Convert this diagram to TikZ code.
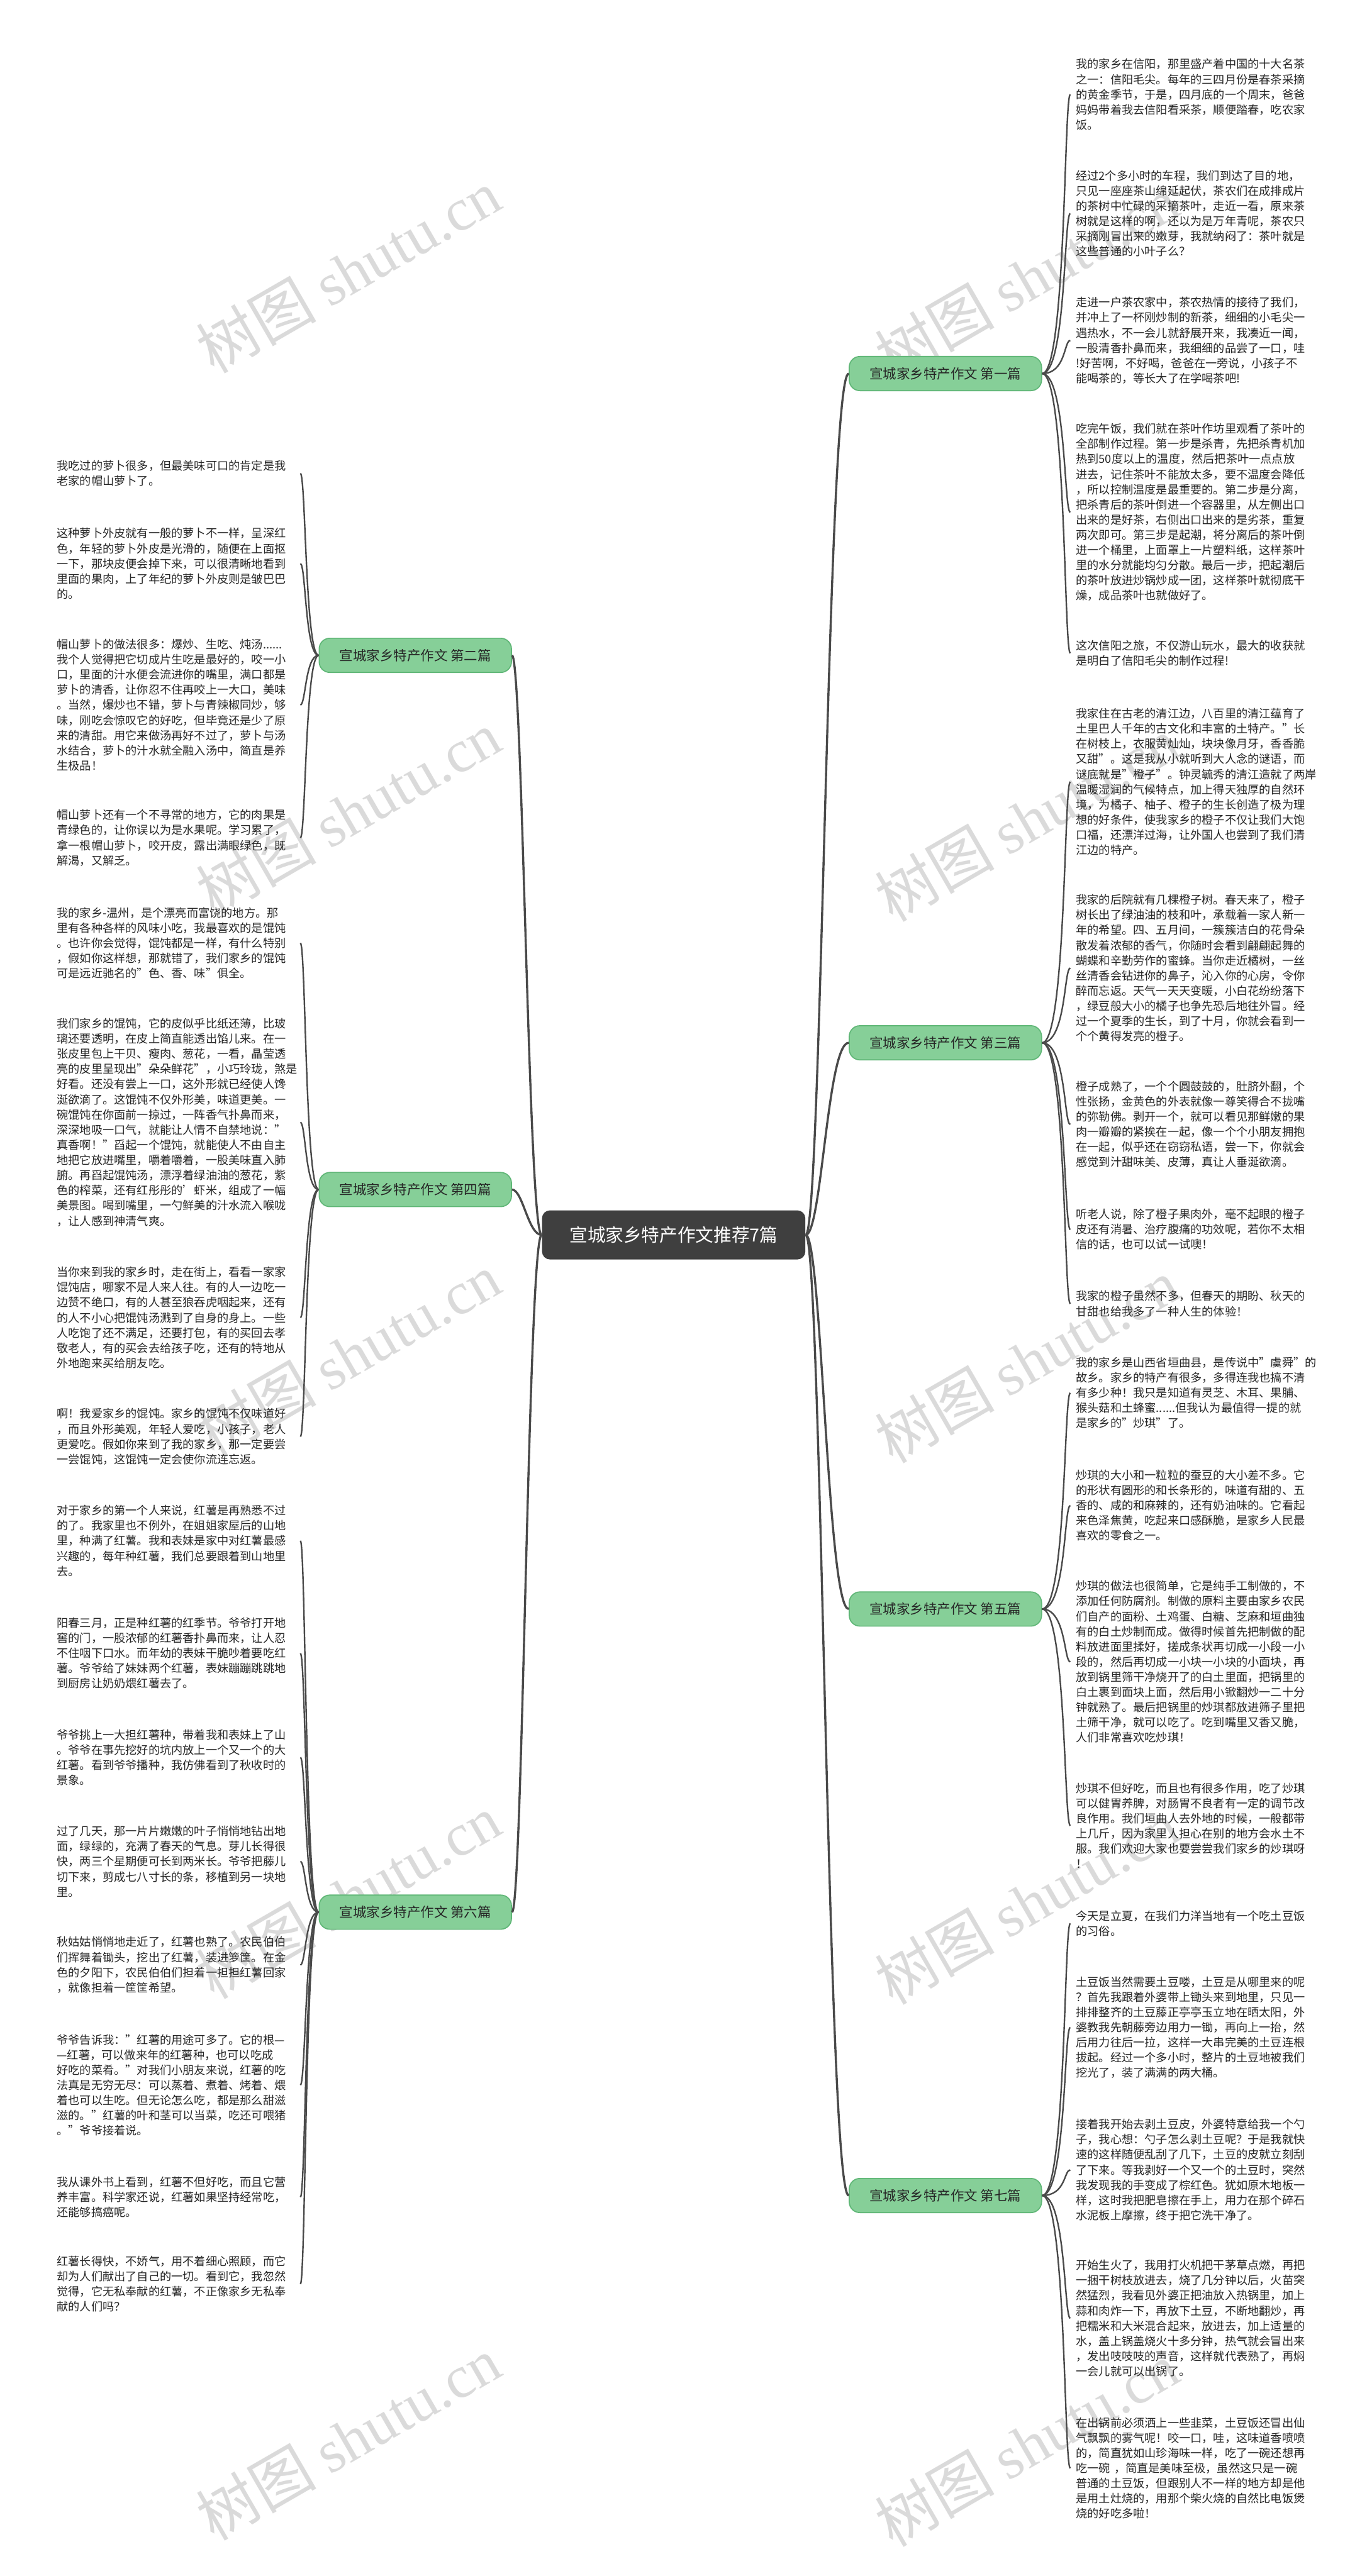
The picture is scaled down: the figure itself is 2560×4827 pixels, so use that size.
\documentclass[tikz,border=0pt]{standalone}
\usepackage{fontspec}
\setmainfont{Noto Sans CJK SC}
\newfontfamily\markfont{Liberation Serif}
\usetikzlibrary{calc}

\definecolor{rootfill}{HTML}{3F3F3F}
\definecolor{topicfill}{HTML}{86CF98}
\definecolor{topicline}{HTML}{5FB676}
\definecolor{wirecol}{HTML}{4A4A4A}
\definecolor{markcol}{HTML}{BDBDBD}

\tikzset{
  rootbox/.style={fill=rootfill, text=white, rounded corners=0.15cm, minimum width=4.93cm, minimum height=0.92cm, font=\fontsize{9.6pt}{11pt}\selectfont},
  topicbox/.style={fill=topicfill, draw=topicline, line width=0.02cm, rounded corners=0.2cm, minimum width=3.6cm, minimum height=0.64cm, text=black!85, font=\fontsize{7.2pt}{9pt}\selectfont},
  parabox/.style={anchor=west, align=left, text width=4.45cm, inner xsep=0.1cm, inner ysep=0pt, text=black!85, font=\fontsize{6.1pt}{8.08pt}\selectfont},
  trunk/.style={draw=wirecol, line width=0.04cm},
  twig/.style={draw=wirecol, line width=0.028cm},
  wmark/.style={text=markcol, opacity=0.55, rotate=30, font=\fontsize{32pt}{32pt}\selectfont},
}

\begin{document}
\begin{tikzpicture}[x=0.01cm, y=-0.01cm]
	\useasboundingbox[fill=white] (0,0) rectangle (2560,4827);

	% watermarks
	\node[wmark] (wm1) at (652,508) {树图 {\markfont shutu.cn}};
	\node[wmark] (wm2) at (1923,520) {树图 {\markfont shutu.cn}};
	\node[wmark] (wm3) at (652,1523) {树图 {\markfont shutu.cn}};
	\node[wmark] (wm4) at (1923,1535) {树图 {\markfont shutu.cn}};
	\node[wmark] (wm5) at (652,2539) {树图 {\markfont shutu.cn}};
	\node[wmark] (wm6) at (1923,2550) {树图 {\markfont shutu.cn}};
	\node[wmark] (wm7) at (652,3554) {树图 {\markfont shutu.cn}};
	\node[wmark] (wm8) at (1923,3565) {树图 {\markfont shutu.cn}};
	\node[wmark] (wm9) at (652,4569) {树图 {\markfont shutu.cn}};
	\node[wmark] (wm10) at (1923,4580) {树图 {\markfont shutu.cn}};

	\node[rootbox] (c) at (1262,2314) {宣城家乡特产作文推荐7篇};

	\node[topicbox] (b1) at (1771,700) {宣城家乡特产作文 第一篇};
	\node[topicbox] (b2) at (778,1228) {宣城家乡特产作文 第二篇};
	\node[topicbox] (b3) at (1771,1954) {宣城家乡特产作文 第三篇};
	\node[topicbox] (b4) at (778,2229) {宣城家乡特产作文 第四篇};
	\node[topicbox] (b5) at (1771,3015) {宣城家乡特产作文 第五篇};
	\node[topicbox] (b6) at (778,3583) {宣城家乡特产作文 第六篇};
	\node[topicbox] (b7) at (1771,4114) {宣城家乡特产作文 第七篇};

	% 第一篇
	\node[parabox] (r1a) at (2005,177) {我的家乡在信阳，那里盛产着中国的十大名茶\\之一：信阳毛尖。每年的三四月份是春茶采摘\\的黄金季节，于是，四月底的一个周末，爸爸\\妈妈带着我去信阳看采茶，顺便踏春，吃农家\\饭。};
	\node[parabox] (r1b) at (2005,400) {经过2个多小时的车程，我们到达了目的地，\\只见一座座茶山绵延起伏，茶农们在成排成片\\的茶树中忙碌的采摘茶叶，走近一看，原来茶\\树就是这样的啊，还以为是万年青呢，茶农只\\采摘刚冒出来的嫩芽，我就纳闷了：茶叶就是\\这些普通的小叶子么？};
	\node[parabox] (r1c) at (2005,638) {走进一户茶农家中，茶农热情的接待了我们，\\并冲上了一杯刚炒制的新茶，细细的小毛尖一\\遇热水，不一会儿就舒展开来，我凑近一闻，\\一股清香扑鼻而来，我细细的品尝了一口，哇\\!好苦啊，不好喝，爸爸在一旁说，小孩子不\\能喝茶的，等长大了在学喝茶吧!};
	\node[parabox] (r1d) at (2005,960) {吃完午饭，我们就在茶叶作坊里观看了茶叶的\\全部制作过程。第一步是杀青，先把杀青机加\\热到50度以上的温度，然后把茶叶一点点放\\进去，记住茶叶不能放太多，要不温度会降低\\，所以控制温度是最重要的。第二步是分离，\\把杀青后的茶叶倒进一个容器里，从左侧出口\\出来的是好茶，右侧出口出来的是劣茶，重复\\两次即可。第三步是起潮，将分离后的茶叶倒\\进一个桶里，上面罩上一片塑料纸，这样茶叶\\里的水分就能均匀分散。最后一步，把起潮后\\的茶叶放进炒锅炒成一团，这样茶叶就彻底干\\燥，成品茶叶也就做好了。};
	\node[parabox] (r1e) at (2005,1224) {这次信阳之旅，不仅游山玩水，最大的收获就\\是明白了信阳毛尖的制作过程!};

	% 第三篇
	\node[parabox] (r3a) at (2005,1465) {我家住在古老的清江边，八百里的清江蕴育了\\土里巴人千年的古文化和丰富的土特产。"长\\在树枝上，衣服黄灿灿，块块像月牙，香香脆\\又甜"。这是我从小就听到大人念的谜语，而\\谜底就是"橙子"。钟灵毓秀的清江造就了两岸\\温暖湿润的气候特点，加上得天独厚的自然环\\境，为橘子、柚子、橙子的生长创造了极为理\\想的好条件，使我家乡的橙子不仅让我们大饱\\口福，还漂洋过海，让外国人也尝到了我们清\\江边的特产。};
	\node[parabox] (r3b) at (2005,1814) {我家的后院就有几棵橙子树。春天来了，橙子\\树长出了绿油油的枝和叶，承载着一家人新一\\年的希望。四、五月间，一簇簇洁白的花骨朵\\散发着浓郁的香气，你随时会看到翩翩起舞的\\蝴蝶和辛勤劳作的蜜蜂。当你走近橘树，一丝\\丝清香会钻进你的鼻子，沁入你的心房，令你\\醉而忘返。天气一天天变暖，小白花纷纷落下\\，绿豆般大小的橘子也争先恐后地往外冒。经\\过一个夏季的生长，到了十月，你就会看到一\\个个黄得发亮的橙子。};
	\node[parabox] (r3c) at (2005,2107) {橙子成熟了，一个个圆鼓鼓的，肚脐外翻，个\\性张扬，金黄色的外表就像一尊笑得合不拢嘴\\的弥勒佛。剥开一个，就可以看见那鲜嫩的果\\肉一瓣瓣的紧挨在一起，像一个个小朋友拥抱\\在一起，似乎还在窃窃私语，尝一下，你就会\\感觉到汁甜味美、皮薄，真让人垂涎欲滴。};
	\node[parabox] (r3d) at (2005,2304) {听老人说，除了橙子果肉外，毫不起眼的橙子\\皮还有消暑、治疗腹痛的功效呢，若你不太相\\信的话，也可以试一试噢！};
	\node[parabox] (r3e) at (2005,2443) {我家的橙子虽然不多，但春天的期盼、秋天的\\甘甜也给我多了一种人生的体验！};

	% 第五篇
	\node[parabox] (r5a) at (2005,2610) {我的家乡是山西省垣曲县，是传说中"虞舜"的\\故乡。家乡的特产有很多，多得连我也搞不清\\有多少种！我只是知道有灵芝、木耳、果脯、\\猴头菇和土蜂蜜......但我认为最值得一提的就\\是家乡的"炒琪"了。};
	\node[parabox] (r5b) at (2005,2821) {炒琪的大小和一粒粒的蚕豆的大小差不多。它\\的形状有圆形的和长条形的，味道有甜的、五\\香的、咸的和麻辣的，还有奶油味的。它看起\\来色泽焦黄，吃起来口感酥脆，是家乡人民最\\喜欢的零食之一。};
	\node[parabox] (r5c) at (2005,3114) {炒琪的做法也很简单，它是纯手工制做的，不\\添加任何防腐剂。制做的原料主要由家乡农民\\们自产的面粉、土鸡蛋、白糖、芝麻和垣曲独\\有的白土炒制而成。做得时候首先把制做的配\\料放进面里揉好，搓成条状再切成一小段一小\\段的，然后再切成一小块一小块的小面块，再\\放到锅里筛干净烧开了的白土里面，把锅里的\\白土裹到面块上面，然后用小锨翻炒一二十分\\钟就熟了。最后把锅里的炒琪都放进筛子里把\\土筛干净，就可以吃了。吃到嘴里又香又脆，\\人们非常喜欢吃炒琪！};
	\node[parabox] (r5d) at (2005,3421) {炒琪不但好吃，而且也有很多作用，吃了炒琪\\可以健胃养脾，对肠胃不良者有一定的调节改\\良作用。我们垣曲人去外地的时候，一般都带\\上几斤，因为家里人担心在别的地方会水土不\\服。我们欢迎大家也要尝尝我们家乡的炒琪呀\\！};

	% 第七篇
	\node[parabox] (r7a) at (2005,3604) {今天是立夏，在我们力洋当地有一个吃土豆饭\\的习俗。};
	\node[parabox] (r7b) at (2005,3799) {土豆饭当然需要土豆喽，土豆是从哪里来的呢\\？首先我跟着外婆带上锄头来到地里，只见一\\排排整齐的土豆藤正亭亭玉立地在晒太阳，外\\婆教我先朝藤旁边用力一锄，再向上一抬，然\\后用力往后一拉，这样一大串完美的土豆连根\\拔起。经过一个多小时，整片的土豆地被我们\\挖光了，装了满满的两大桶。};
	\node[parabox] (r7c) at (2005,4066) {接着我开始去剥土豆皮，外婆特意给我一个勺\\子，我心想：勺子怎么剥土豆呢？于是我就快\\速的这样随便乱刮了几下，土豆的皮就立刻刮\\了下来。等我剥好一个又一个的土豆时，突然\\我发现我的手变成了棕红色。犹如原木地板一\\样，这时我把肥皂擦在手上，用力在那个碎石\\水泥板上摩擦，终于把它洗干净了。};
	\node[parabox] (r7d) at (2005,4344) {开始生火了，我用打火机把干茅草点燃，再把\\一捆干树枝放进去，烧了几分钟以后，火苗突\\然猛烈，我看见外婆正把油放入热锅里，加上\\蒜和肉炸一下，再放下土豆，不断地翻炒，再\\把糯米和大米混合起来，放进去，加上适量的\\水，盖上锅盖烧火十多分钟，热气就会冒出来\\，发出吱吱吱的声音，这样就代表熟了，再焖\\一会儿就可以出锅了。};
	\node[parabox] (r7e) at (2005,4625) {在出锅前必须洒上一些韭菜，土豆饭还冒出仙\\气飘飘的雾气呢！咬一口，哇，这味道香喷喷\\的，简直犹如山珍海味一样，吃了一碗还想再\\吃一碗 ，简直是美味至极，虽然这只是一碗\\普通的土豆饭，但跟别人不一样的地方却是他\\是用土灶烧的，用那个柴火烧的自然比电饭煲\\烧的好吃多啦！};

	% 第二篇
	\node[parabox] (l2a) at (96,887) {我吃过的萝卜很多，但最美味可口的肯定是我\\老家的帽山萝卜了。};
	\node[parabox] (l2b) at (96,1056) {这种萝卜外皮就有一般的萝卜不一样，呈深红\\色，年轻的萝卜外皮是光滑的，随便在上面抠\\一下，那块皮便会掉下来，可以很清晰地看到\\里面的果肉，上了年纪的萝卜外皮则是皱巴巴\\的。};
	\node[parabox] (l2c) at (96,1321) {帽山萝卜的做法很多：爆炒、生吃、炖汤......\\我个人觉得把它切成片生吃是最好的，咬一小\\口，里面的汁水便会流进你的嘴里，满口都是\\萝卜的清香，让你忍不住再咬上一大口，美味\\。当然，爆炒也不错，萝卜与青辣椒同炒，够\\味，刚吃会惊叹它的好吃，但毕竟还是少了原\\来的清甜。用它来做汤再好不过了，萝卜与汤\\水结合，萝卜的汁水就全融入汤中，简直是养\\生极品！};
	\node[parabox] (l2d) at (96,1570) {帽山萝卜还有一个不寻常的地方，它的肉果是\\青绿色的，让你误以为是水果呢。学习累了，\\拿一根帽山萝卜，咬开皮，露出满眼绿色，既\\解渴，又解乏。};

	% 第四篇
	\node[parabox] (l4a) at (96,1767) {我的家乡-温州，是个漂亮而富饶的地方。那\\里有各种各样的风味小吃，我最喜欢的是馄饨\\。也许你会觉得，馄饨都是一样，有什么特别\\，假如你这样想，那就错了，我们家乡的馄饨\\可是远近驰名的"色、香、味"俱全。};
	\node[parabox] (l4b) at (96,2103) {我们家乡的馄饨，它的皮似乎比纸还薄，比玻\\璃还要透明，在皮上简直能透出馅儿来。在一\\张皮里包上干贝、瘦肉、葱花，一看，晶莹透\\亮的皮里呈现出"朵朵鲜花"，小巧玲珑，煞是\\好看。还没有尝上一口，这外形就已经使人馋\\涎欲滴了。这馄饨不仅外形美，味道更美。一\\碗馄饨在你面前一掠过，一阵香气扑鼻而来，\\深深地吸一口气，就能让人情不自禁地说："\\真香啊！"舀起一个馄饨，就能使人不由自主\\地把它放进嘴里，嚼着嚼着，一股美味直入肺\\腑。再舀起馄饨汤，漂浮着绿油油的葱花，紫\\色的榨菜，还有红彤彤的'虾米，组成了一幅\\美景图。喝到嘴里，一勺鲜美的汁水流入喉咙\\，让人感到神清气爽。};
	\node[parabox] (l4c) at (96,2469) {当你来到我的家乡时，走在街上，看看一家家\\馄饨店，哪家不是人来人往。有的人一边吃一\\边赞不绝口，有的人甚至狼吞虎咽起来，还有\\的人不小心把馄饨汤溅到了自身的身上。一些\\人吃饱了还不满足，还要打包，有的买回去孝\\敬老人，有的买会去给孩子吃，还有的特地从\\外地跑来买给朋友吃。};
	\node[parabox] (l4d) at (96,2692) {啊！我爱家乡的馄饨。家乡的馄饨不仅味道好\\，而且外形美观，年轻人爱吃，小孩子，老人\\更爱吃。假如你来到了我的家乡，那一定要尝\\一尝馄饨，这馄饨一定会使你流连忘返。};

	% 第六篇
	\node[parabox] (l6a) at (96,2887) {对于家乡的第一个人来说，红薯是再熟悉不过\\的了。我家里也不例外，在姐姐家屋后的山地\\里，种满了红薯。我和表妹是家中对红薯最感\\兴趣的，每年种红薯，我们总要跟着到山地里\\去。};
	\node[parabox] (l6b) at (96,3098) {阳春三月，正是种红薯的红季节。爷爷打开地\\窖的门，一股浓郁的红薯香扑鼻而来，让人忍\\不住咽下口水。而年幼的表妹干脆吵着要吃红\\薯。爷爷给了妹妹两个红薯，表妹蹦蹦跳跳地\\到厨房让奶奶煨红薯去了。};
	\node[parabox] (l6c) at (96,3293) {爷爷挑上一大担红薯种，带着我和表妹上了山\\。爷爷在事先挖好的坑内放上一个又一个的大\\红薯。看到爷爷播种，我仿佛看到了秋收时的\\景象。};
	\node[parabox] (l6d) at (96,3488) {过了几天，那一片片嫩嫩的叶子悄悄地钻出地\\面，绿绿的，充满了春天的气息。芽儿长得很\\快，两三个星期便可长到两米长。爷爷把藤儿\\切下来，剪成七八寸长的条，移植到另一块地\\里。};
	\node[parabox] (l6e) at (96,3682) {秋姑姑悄悄地走近了，红薯也熟了。农民伯伯\\们挥舞着锄头，挖出了红薯，装进箩筐。在金\\色的夕阳下，农民伯伯们担着一担担红薯回家\\，就像担着一筐筐希望。};
	\node[parabox] (l6f) at (96,3907) {爷爷告诉我："红薯的用途可多了。它的根—\\—红薯，可以做来年的红薯种，也可以吃成\\好吃的菜肴。"对我们小朋友来说，红薯的吃\\法真是无穷无尽：可以蒸着、煮着、烤着、煨\\着也可以生吃。但无论怎么吃，都是那么甜滋\\滋的。"红薯的叶和茎可以当菜，吃还可喂猪\\。"爷爷接着说。};
	\node[parabox] (l6g) at (96,4117) {我从课外书上看到，红薯不但好吃，而且它营\\养丰富。科学家还说，红薯如果坚持经常吃，\\还能够搞癌呢。};
	\node[parabox] (l6h) at (96,4280) {红薯长得快，不娇气，用不着细心照顾，而它\\却为人们献出了自己的一切。看到它，我忽然\\觉得，它无私奉献的红薯，不正像家乡无私奉\\献的人们吗？};

	% root to topics
	\draw[trunk] (c.east) .. controls +(30,0) and +(-40,0) .. (b1.west);
	\draw[trunk] (c.east) .. controls +(30,0) and +(-40,0) .. (b3.west);
	\draw[trunk] (c.east) .. controls +(30,0) and +(-40,0) .. (b5.west);
	\draw[trunk] (c.east) .. controls +(30,0) and +(-40,0) .. (b7.west);
	\draw[trunk] (c.west) .. controls +(-25,0) and +(20,0) .. (b2.east);
	\draw[trunk] (c.west) .. controls +(-25,0) and +(20,0) .. (b4.east);
	\draw[trunk] (c.west) .. controls +(-25,0) and +(20,0) .. (b6.east);

	% topics to paragraphs
	\draw[twig] (b1.east) .. controls +(45,0) and +(-12,0) .. (r1a.west);
	\draw[twig] (b1.east) .. controls +(45,0) and +(-12,0) .. (r1b.west);
	\draw[twig] (b1.east) .. controls +(45,0) and +(-12,0) .. (r1c.west);
	\draw[twig] (b1.east) .. controls +(45,0) and +(-12,0) .. (r1d.west);
	\draw[twig] (b1.east) .. controls +(45,0) and +(-12,0) .. (r1e.west);

	\draw[twig] (b3.east) .. controls +(45,0) and +(-12,0) .. (r3a.west);
	\draw[twig] (b3.east) .. controls +(45,0) and +(-12,0) .. (r3b.west);
	\draw[twig] (b3.east) .. controls +(45,0) and +(-12,0) .. (r3c.west);
	\draw[twig] (b3.east) .. controls +(45,0) and +(-12,0) .. (r3d.west);
	\draw[twig] (b3.east) .. controls +(45,0) and +(-12,0) .. (r3e.west);

	\draw[twig] (b5.east) .. controls +(45,0) and +(-12,0) .. (r5a.west);
	\draw[twig] (b5.east) .. controls +(45,0) and +(-12,0) .. (r5b.west);
	\draw[twig] (b5.east) .. controls +(45,0) and +(-12,0) .. (r5c.west);
	\draw[twig] (b5.east) .. controls +(45,0) and +(-12,0) .. (r5d.west);

	\draw[twig] (b7.east) .. controls +(45,0) and +(-12,0) .. (r7a.west);
	\draw[twig] (b7.east) .. controls +(45,0) and +(-12,0) .. (r7b.west);
	\draw[twig] (b7.east) .. controls +(45,0) and +(-12,0) .. (r7c.west);
	\draw[twig] (b7.east) .. controls +(45,0) and +(-12,0) .. (r7d.west);
	\draw[twig] (b7.east) .. controls +(45,0) and +(-12,0) .. (r7e.west);

	\draw[twig] (b2.west) .. controls +(-25,0) and +(10,0) .. (l2a.east);
	\draw[twig] (b2.west) .. controls +(-25,0) and +(10,0) .. (l2b.east);
	\draw[twig] (b2.west) .. controls +(-25,0) and +(10,0) .. (l2c.east);
	\draw[twig] (b2.west) .. controls +(-25,0) and +(10,0) .. (l2d.east);

	\draw[twig] (b4.west) .. controls +(-25,0) and +(10,0) .. (l4a.east);
	\draw[twig] (b4.west) .. controls +(-25,0) and +(10,0) .. (l4b.east);
	\draw[twig] (b4.west) .. controls +(-25,0) and +(10,0) .. (l4c.east);
	\draw[twig] (b4.west) .. controls +(-25,0) and +(10,0) .. (l4d.east);

	\draw[twig] (b6.west) .. controls +(-25,0) and +(10,0) .. (l6a.east);
	\draw[twig] (b6.west) .. controls +(-25,0) and +(10,0) .. (l6b.east);
	\draw[twig] (b6.west) .. controls +(-25,0) and +(10,0) .. (l6c.east);
	\draw[twig] (b6.west) .. controls +(-25,0) and +(10,0) .. (l6d.east);
	\draw[twig] (b6.west) .. controls +(-25,0) and +(10,0) .. (l6e.east);
	\draw[twig] (b6.west) .. controls +(-25,0) and +(10,0) .. (l6f.east);
	\draw[twig] (b6.west) .. controls +(-25,0) and +(10,0) .. (l6g.east);
	\draw[twig] (b6.west) .. controls +(-25,0) and +(10,0) .. (l6h.east);
\end{tikzpicture}
\end{document}
